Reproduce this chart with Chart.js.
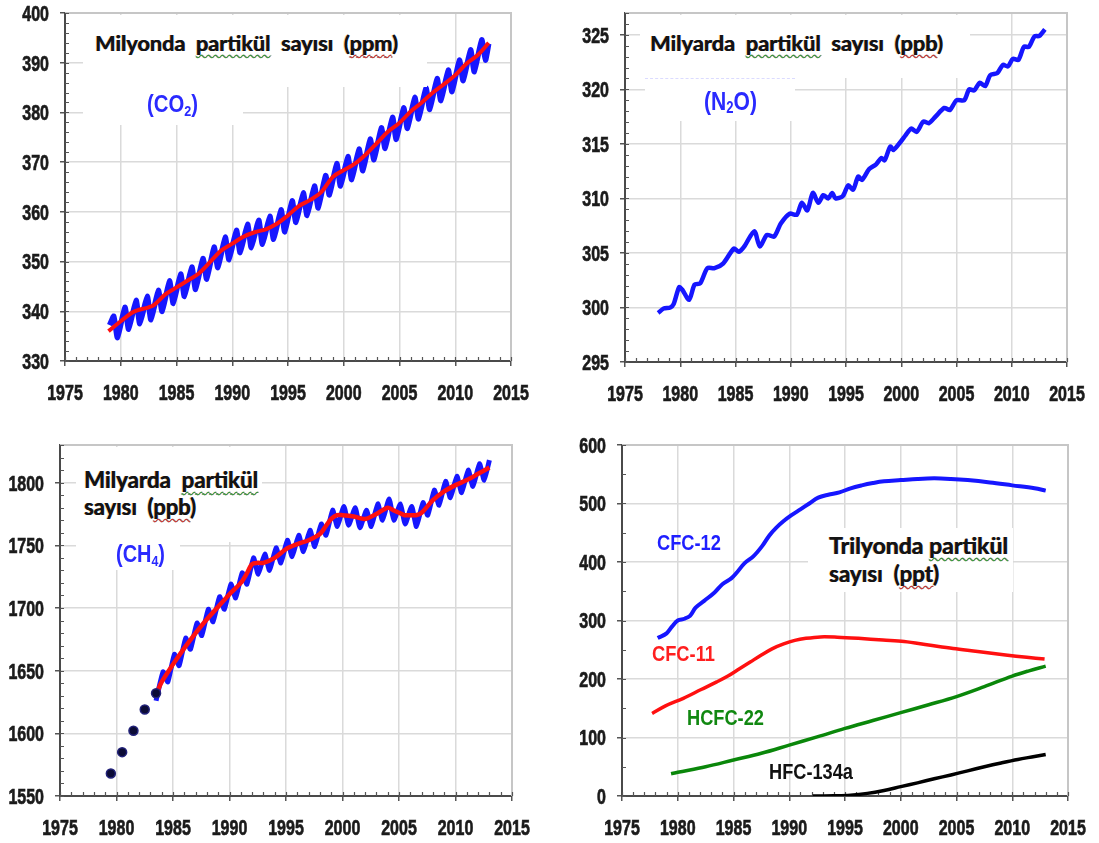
<!DOCTYPE html>
<html lang="tr">
<head>
<meta charset="utf-8">
<title>Sera gazları</title>
<script src="https://cdn.jsdelivr.net/npm/chart.js@4.4.1/dist/chart.umd.min.js"></script>
<style>
  html, body { margin: 0; padding: 0; background: #fff; }
  #stage { position: relative; width: 1099px; height: 843px; overflow: hidden; background: #fff; }
  #stage canvas { position: absolute; }
  .box { position: absolute; background: #fff; }
  .title {
    position: absolute; white-space: pre; line-height: 1;
    font-family: Lato, "Open Sans", sans-serif; font-weight: 700; color: #141414;
    text-shadow: 0.35px 0 #141414, -0.8px 0 rgba(230, 150, 40, 0.45), 0.9px 0 rgba(60, 120, 255, 0.3);
  }
  .species {
    position: absolute; white-space: pre; line-height: 1;
    font-family: "Liberation Sans", Arial, sans-serif; font-weight: 700;
  }
  .species sub { font-size: 0.62em; vertical-align: -0.22em; line-height: 0; }
  .wg { text-decoration: underline wavy #36b03c; text-decoration-thickness: 1px; text-underline-offset: 3px; text-decoration-skip-ink: none; }
  .wr { text-decoration: underline wavy #f03030; text-decoration-thickness: 1px; text-underline-offset: 3px; text-decoration-skip-ink: none; }
</style>
</head>
<body>
<div id="stage">
  <canvas id="co2" width="550" height="420" style="left:0;top:0"></canvas>
  <canvas id="n2o" width="549" height="420" style="left:550px;top:0"></canvas>
  <canvas id="ch4" width="550" height="423" style="left:0;top:420px"></canvas>
  <canvas id="halo" width="549" height="423" style="left:550px;top:420px"></canvas>
</div>
<script>
// ---------- tick labels ----------
const yearTicks = [1975, 1980, 1985, 1990, 1995, 2000, 2005, 2010, 2015];
const co2Ticks  = [330, 340, 350, 360, 370, 380, 390, 400];
const n2oTicks  = [295, 300, 305, 310, 315, 320, 325];
const ch4Ticks  = [1550, 1600, 1650, 1700, 1750, 1800];
const haloTicks = [0, 100, 200, 300, 400, 500, 600];

// ---------- CO2 (ppm): seasonal highs / lows per year and the de-seasonalised trend ----------
const co2CycleYears = [1979, 1980, 1981, 1982, 1983, 1984, 1985, 1986, 1987, 1988, 1989, 1990,
  1991, 1992, 1993, 1994, 1995, 1996, 1997, 1998, 1999, 2000, 2001, 2002, 2003, 2004, 2005,
  2006, 2007, 2008, 2009, 2010, 2011, 2012];
const co2SpringHigh = [339.0, 340.8, 342.2, 343.0, 344.2, 346.1, 347.5, 348.9, 350.6, 352.9,
  354.9, 356.3, 357.5, 358.3, 359.1, 360.4, 362.2, 363.8, 365.2, 367.3, 369.7, 371.1, 372.6,
  374.6, 376.9, 379.0, 380.9, 383.0, 384.9, 386.8, 388.5, 390.5, 392.6, 394.6];
const co2AutumnLow = [334.7, 336.4, 337.5, 338.3, 340.0, 341.6, 343.0, 344.4, 346.5, 348.8,
  350.4, 351.8, 352.8, 353.5, 354.5, 356.0, 357.9, 359.3, 360.8, 363.4, 365.2, 366.5, 368.3,
  370.5, 372.8, 374.6, 376.8, 378.7, 380.6, 382.4, 384.2, 386.4, 388.2, 390.5];
const co2HighMonth = 5, co2LowMonth = 9;
const co2FirstObs = [1979.0, 337.2];
const co2LastObs  = [2013.0, 393.8];
const co2Trend = [[1978.9, 336.0], [1980, 338.0], [1981, 339.7], [1981.5, 340.2], [1982, 340.5],
  [1982.5, 340.8], [1983, 341.3], [1984, 343.4], [1985, 344.8], [1986, 346.2], [1987, 347.6],
  [1988, 349.9], [1989, 352.2], [1990, 353.6], [1991, 355.0], [1992, 355.9], [1993, 356.5],
  [1994, 357.6], [1995, 359.3], [1996, 361.2], [1997, 362.4], [1998, 364.0], [1999, 367.0],
  [2000, 368.4], [2001, 369.7], [2002, 371.6], [2003, 373.9], [2004, 376.2], [2005, 377.9],
  [2006, 380.2], [2007, 382.0], [2008, 384.0], [2009, 385.7], [2010, 387.5], [2011, 389.8],
  [2012, 391.5], [2013, 394.0]];

// ---------- N2O (ppb) ----------
const n2oSeries = [[1978.0, 299.5], [1978.5, 299.9], [1979.1, 300.0], [1979.4, 300.3],
  [1979.9, 301.85], [1980.2, 301.6], [1980.8, 300.7], [1981.3, 302.1], [1981.8, 302.2],
  [1982.45, 303.6], [1983.1, 303.6], [1983.9, 304.05], [1984.85, 305.4], [1985.3, 305.1],
  [1985.8, 305.6], [1986.7, 307.0], [1987.2, 305.6], [1987.85, 306.65], [1988.5, 306.5],
  [1989.1, 307.7], [1989.9, 308.6], [1990.55, 308.5], [1991.0, 309.6], [1991.5, 308.9],
  [1992.0, 310.5], [1992.5, 309.6], [1992.95, 310.3], [1993.4, 310.0], [1993.75, 310.5],
  [1994.05, 310.0], [1994.7, 310.2], [1995.2, 311.2], [1995.65, 310.8], [1996.1, 312.0],
  [1996.45, 311.7], [1997.1, 312.7], [1997.7, 313.1], [1998.2, 313.7], [1998.5, 313.5],
  [1999.0, 314.75], [1999.3, 314.45], [1999.95, 315.2], [2000.4, 315.8], [2000.9, 316.4],
  [2001.4, 316.1], [2002.0, 317.05], [2002.5, 316.9], [2003.1, 317.5], [2003.9, 318.3],
  [2004.4, 318.1], [2005.0, 319.0], [2005.7, 319.0], [2006.15, 320.0], [2006.6, 319.9],
  [2007.1, 320.6], [2007.6, 320.3], [2008.05, 321.3], [2008.7, 321.5], [2009.2, 322.25],
  [2009.65, 322.1], [2010.1, 322.8], [2010.6, 322.7], [2011.1, 323.9], [2011.55, 323.9],
  [2012.05, 324.85], [2012.5, 324.9], [2013.0, 325.5]];

// ---------- CH4 (ppb) ----------
const ch4EarlyYears  = [1979.5, 1980.5, 1981.5, 1982.5, 1983.5];
const ch4EarlyValues = [1568, 1585, 1602, 1619, 1632];
const ch4CycleYears = [1984, 1985, 1986, 1987, 1988, 1989, 1990, 1991, 1992, 1993, 1994, 1995,
  1996, 1997, 1998, 1999, 2000, 2001, 2002, 2003, 2004, 2005, 2006, 2007, 2008, 2009, 2010,
  2011, 2012];
const ch4WinterHigh = [1649, 1663, 1676, 1688, 1699, 1709, 1719, 1728, 1740, 1743, 1748, 1754,
  1758, 1762, 1767, 1778, 1781, 1780, 1778, 1783, 1787, 1783, 1781, 1784, 1794, 1801, 1805,
  1810, 1815];
const ch4SummerLow = [1641, 1654, 1667, 1678, 1689, 1699, 1708, 1719, 1727, 1730, 1736, 1741,
  1745, 1749, 1758, 1765, 1766, 1764, 1765, 1770, 1770, 1767, 1765, 1774, 1782, 1788, 1792,
  1797, 1802];
const ch4HighMonth = 2, ch4LowMonth = 7;
const ch4FirstObs = [1983.5, 1626];
const ch4LastObs  = [2013.0, 1818];
const ch4Trend = [[1983.6, 1633], [1984, 1641], [1985, 1655], [1986, 1668], [1987, 1680],
  [1988, 1691], [1989, 1701], [1990, 1711], [1991, 1720], [1991.5, 1727], [1992, 1735],
  [1992.5, 1736], [1993, 1736], [1994, 1740], [1995, 1747], [1996, 1751], [1997, 1754],
  [1998, 1759], [1998.5, 1765], [1999, 1771], [1999.5, 1774], [2000, 1774], [2001, 1773],
  [2002, 1771], [2003, 1775], [2004, 1780], [2004.5, 1778], [2005, 1776], [2005.5, 1774],
  [2006, 1774], [2006.5, 1774], [2007, 1776], [2008, 1786], [2009, 1793], [2010, 1798],
  [2011, 1802], [2012, 1807], [2013, 1812]];

// ---------- halocarbons (ppt) ----------
const cfc12 = [[1978.2, 270], [1979.0, 278], [1979.5, 290], [1980.0, 300], [1980.6, 303],
  [1981.1, 308], [1981.6, 322], [1982.4, 334], [1983.3, 348], [1984.0, 362], [1984.8, 372],
  [1985.3, 382], [1986.0, 398], [1986.8, 410], [1987.6, 428], [1988.2, 445], [1988.8, 458],
  [1989.5, 470], [1990.2, 480], [1991.0, 490], [1991.8, 500], [1992.6, 510], [1993.5, 515],
  [1994.5, 519], [1995.5, 526], [1996.5, 531], [1997.5, 535], [1998.5, 538], [2000.0, 540],
  [2001.5, 542], [2003.0, 543], [2004.5, 542], [2006.0, 540], [2008.0, 536], [2010.0, 531],
  [2012.0, 526], [2013.0, 522]];
const cfc11 = [[1977.7, 141], [1978.9, 154], [1980.5, 167], [1982.1, 182], [1983.5, 195],
  [1984.5, 205], [1985.5, 217], [1986.5, 229], [1987.5, 241], [1988.5, 252], [1989.5, 260],
  [1990.5, 266], [1991.5, 269.5], [1992.8, 272], [1994.3, 271.5], [1996.2, 269.5],
  [1998.4, 266.5], [2000.3, 264], [2002.5, 258], [2004.7, 252], [2006.9, 247], [2009.4, 241],
  [2011.3, 237], [2012.9, 234]];
const hcfc22 = [[1979.4, 38], [1980, 40.5], [1982.5, 50], [1985, 61.5], [1987.5, 73], [1990, 87],
  [1992.5, 101], [1995, 115.5], [1997.5, 129], [2000, 142.5], [2002.5, 156], [2005, 170],
  [2007.5, 187], [2010, 205], [2011.5, 214], [2013, 222]];
const hfc134a = [[1992.1, 0], [1994, 0.5], [1995.5, 1.5], [1997, 4.5], [1998.5, 9.5], [2000, 16],
  [2001.5, 22.5], [2003, 29.5], [2004.5, 36], [2006, 43], [2007.5, 50], [2009, 56.5],
  [2010.5, 62.5], [2012, 67.5], [2013, 71]];

// ---------- helpers turning the arrays into chart points ----------
const pts = pairs => pairs.map(([x, y]) => ({ x, y }));
const monthPos = m => (m - 0.5) / 12;
function seasonal(first, years, highs, highMonth, lows, lowMonth, last) {
  const out = [{ x: first[0], y: first[1] }];
  years.forEach((yr, i) => {
    out.push({ x: yr + monthPos(highMonth), y: highs[i] });
    out.push({ x: yr + monthPos(lowMonth), y: lows[i] });
  });
  out.push({ x: last[0], y: last[1] });
  return out;
}

// ---------- plot furniture: frame, minor ticks, tall bold tick labels ----------
const decor = {
  id: 'decor',
  beforeDatasetsDraw(chart, args, o) {
    const { ctx, chartArea: a, scales: { x, y } } = chart;
    ctx.save();
    ctx.strokeStyle = '#c6c6c6';
    ctx.lineWidth = 2;
    ctx.beginPath();
    ctx.moveTo(a.left, a.top); ctx.lineTo(a.right, a.top); ctx.lineTo(a.right, a.bottom);
    ctx.stroke();
    ctx.strokeStyle = '#555';
    ctx.lineWidth = 1.2;
    ctx.beginPath();
    for (let v = x.min; v <= x.max + 1e-9; v += o.xMinor) {
      const px = Math.round(x.getPixelForValue(v)) + 0.5;
      ctx.moveTo(px, a.bottom); ctx.lineTo(px, a.bottom - 4);
    }
    for (let v = y.min; v <= y.max + 1e-9; v += o.yMinor) {
      const py = Math.round(y.getPixelForValue(v)) + 0.5;
      ctx.moveTo(a.left, py); ctx.lineTo(a.left + 4, py);
    }
    ctx.stroke();
    ctx.restore();
  },
  afterDraw(chart, args, o) {
    const { ctx, chartArea: a, scales: { x, y } } = chart;
    const fs = o.fontSize;
    ctx.save();
    ctx.font = `bold ${fs}px "Liberation Sans", Arial, sans-serif`;
    ctx.fillStyle = '#1b1b1b';
    ctx.strokeStyle = '#1b1b1b';
    ctx.lineWidth = 0.5;
    ctx.textBaseline = 'alphabetic';
    const put = (txt, px, cy) => {
      ctx.save();
      ctx.translate(px, cy);
      ctx.scale(1, o.stretch);
      ctx.fillText(txt, 0, 0.358 * fs);
      ctx.strokeText(txt, 0, 0.358 * fs);
      ctx.restore();
    };
    ctx.textAlign = 'center';
    x.ticks.forEach(t => put(String(t.value), x.getPixelForValue(t.value), a.bottom + o.xGap));
    ctx.textAlign = 'right';
    y.ticks.forEach(t => put(String(t.value), a.left - o.yGap, y.getPixelForValue(t.value)));
    ctx.restore();
  }
};

function panel(id, frame, yMin, yMax, yTicks, yMinor, datasets) {
  const cv = document.getElementById(id);
  const cx = parseFloat(cv.style.left), cy = parseFloat(cv.style.top);
  return new Chart(cv, {
    type: 'line',
    data: { datasets },
    options: {
      responsive: false, animation: false, devicePixelRatio: 1,
      layout: { padding: { left: 0, top: frame.top - cy, right: cx + cv.width - frame.right, bottom: 0 } },
      elements: { point: { radius: 0 } },
      plugins: {
        legend: { display: false }, tooltip: { enabled: false },
        decor: { xMinor: 1, yMinor, fontSize: 16, stretch: 1.38, xGap: 31, yGap: 16 }
      },
      scales: {
        x: {
          type: 'linear', min: 1975, max: 2015,
          afterBuildTicks: s => { s.ticks = yearTicks.map(v => ({ value: v })); },
          afterFit: s => { s.height = cy + cv.height - frame.bottom; },
          ticks: { display: false },
          grid: { color: '#dadada', lineWidth: 1.5, tickLength: 5, tickColor: '#555', tickWidth: 1.5 },
          border: { color: '#4a4a4a', width: 2 }
        },
        y: {
          type: 'linear', min: yMin, max: yMax,
          afterBuildTicks: s => { s.ticks = yTicks.map(v => ({ value: v })); },
          afterFit: s => { s.width = frame.left - cx; },
          ticks: { display: false },
          grid: { color: '#dadada', lineWidth: 1.5, tickLength: 5, tickColor: '#555', tickWidth: 1.5 },
          border: { color: '#4a4a4a', width: 2 }
        }
      }
    },
    plugins: [decor]
  });
}

const BLUE = 'rgb(22, 22, 255)', RED = 'rgb(255, 16, 16)';

panel('co2', { left: 65, top: 13, right: 511, bottom: 361 }, 330, 400, co2Ticks, 2, [
  { data: pts(co2Trend), borderColor: RED, borderWidth: 4, tension: 0.35, order: 1 },
  { data: seasonal(co2FirstObs, co2CycleYears, co2SpringHigh, co2HighMonth, co2AutumnLow, co2LowMonth, co2LastObs),
    borderColor: BLUE, borderWidth: 5.5, tension: 0.15, order: 2 }
]);

panel('n2o', { left: 625, top: 13, right: 1067, bottom: 362 }, 295, 327, n2oTicks, 1, [
  { data: pts(n2oSeries), borderColor: BLUE, borderWidth: 4.5, tension: 0.25 }
]);

panel('ch4', { left: 60, top: 445, right: 512, bottom: 796 }, 1550, 1830, ch4Ticks, 10, [
  { data: ch4EarlyYears.map((x, i) => ({ x, y: ch4EarlyValues[i] })), showLine: false,
    pointRadius: 4.5, backgroundColor: '#0b0b36', borderColor: '#22227a', borderWidth: 1.5, order: 0 },
  { data: pts(ch4Trend), borderColor: RED, borderWidth: 4.5, tension: 0.3, order: 1 },
  { data: seasonal(ch4FirstObs, ch4CycleYears, ch4WinterHigh, ch4HighMonth, ch4SummerLow, ch4LowMonth, ch4LastObs),
    borderColor: BLUE, borderWidth: 5, tension: 0.15, order: 2 }
]);

panel('halo', { left: 622, top: 445, right: 1068, bottom: 796 }, 0, 600, haloTicks, 50, [
  { data: pts(cfc12), borderColor: BLUE, borderWidth: 4, tension: 0.35 },
  { data: pts(cfc11), borderColor: RED, borderWidth: 3.5, tension: 0.35 },
  { data: pts(hcfc22), borderColor: 'rgb(10, 135, 10)', borderWidth: 3.5, tension: 0.35 },
  { data: pts(hfc134a), borderColor: '#000', borderWidth: 3.5, tension: 0.35 }
]);

// ---------- white text panels and annotations ----------
const stage = document.getElementById('stage');
const whiteBoxes = [
  { l: 83, t: 15, r: 427, b: 87 }, { l: 83, t: 87, r: 243, b: 125 },
  { l: 640, t: 15, r: 970, b: 78 }, { l: 645, t: 78, r: 795, b: 120, dotted: true },
  { l: 76, t: 447, r: 262, b: 542 }, { l: 76, t: 542, r: 180, b: 570 },
  { l: 808, t: 528, r: 1013, b: 592 }
];
whiteBoxes.forEach(b => {
  const d = document.createElement('div');
  d.className = 'box';
  Object.assign(d.style, { left: b.l + 'px', top: b.t + 'px', width: (b.r - b.l) + 'px', height: (b.b - b.t) + 'px' });
  if (b.dotted) d.style.borderTop = '1px dashed rgba(90, 90, 255, 0.22)';
  stage.appendChild(d);
});

const notes = [
  { cls: 'title', html: 'Milyonda  <span class="wg">partikül</span>  sayısı  (<span class="wr">ppm</span>)', left: 95, cy: 44, width: 303 },
  { cls: 'title', html: 'Milyarda  <span class="wg">partikül</span>  sayısı  (<span class="wr">ppb</span>)', left: 650, cy: 43, width: 293 },
  { cls: 'title', html: 'Milyarda  <span class="wg">partikül</span>', left: 84, cy: 481, width: 174 },
  { cls: 'title', html: 'sayısı  (<span class="wr">ppb</span>)', left: 84, cy: 508, width: 112 },
  { cls: 'title', html: 'Trilyonda <span class="wg">partikül</span>', left: 829, cy: 546, width: 179 },
  { cls: 'title', html: 'sayısı  (<span class="wr">ppt</span>)', left: 829, cy: 575, width: 110 },
  { cls: 'species', html: '(CO<sub>2</sub>)', color: '#2a2aff', left: 147, cy: 104, width: 51, stretch: 1.2 },
  { cls: 'species', html: '(N<sub>2</sub>O)', color: '#2a2aff', left: 704, cy: 100, width: 53, stretch: 1.2 },
  { cls: 'species', html: '(CH<sub>4</sub>)', color: '#2a2aff', left: 116, cy: 555, width: 49, stretch: 1.2 },
  { cls: 'species', html: 'CFC-12', color: '#1f1fff', left: 657, cy: 543, width: 64, stretch: 1.2 },
  { cls: 'species', html: 'CFC-11', color: '#ff1f1f', left: 652, cy: 654, width: 63, stretch: 1.2 },
  { cls: 'species', html: 'HCFC-22', color: '#118811', left: 687, cy: 718, width: 77, stretch: 1.2 },
  { cls: 'species', html: 'HFC-134a', color: '#111', left: 769, cy: 772, width: 84, stretch: 1.2 }
];
notes.forEach(n => {
  const el = document.createElement('div');
  el.className = n.cls;
  el.innerHTML = n.html;
  if (n.color) el.style.color = n.color;
  el.style.fontSize = '20px';
  stage.appendChild(el);
  const fs = 20 * n.width / el.getBoundingClientRect().width;
  el.style.fontSize = fs.toFixed(2) + 'px';
  const capMid = (n.cls === 'title' ? 0.529 : 0.488) * fs;
  el.style.left = n.left + 'px';
  el.style.top = (n.cy - capMid).toFixed(1) + 'px';
  if (n.stretch) {
    el.style.transformOrigin = `0 ${capMid.toFixed(1)}px`;
    el.style.transform = `scaleY(${n.stretch})`;
  }
});
</script>
</body>
</html>
